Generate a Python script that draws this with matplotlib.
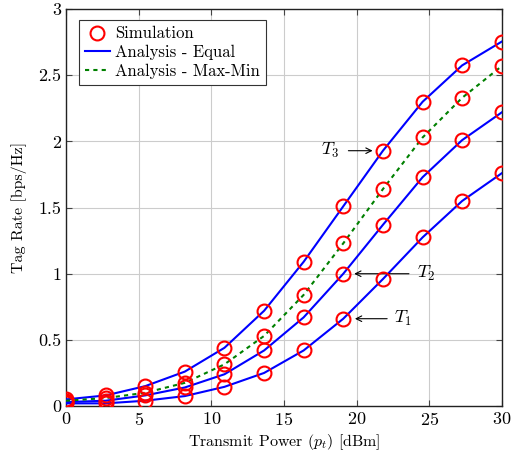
"""
Tag rate vs transmit power
"""

import matplotlib
matplotlib.use('Agg')
import matplotlib.pyplot as plt
import numpy as np

plt.rcParams['font.family'] = 'cmr10'
plt.rcParams['mathtext.fontset'] = 'cm'
plt.rcParams['axes.unicode_minus'] = False
plt.rcParams['axes.formatter.use_mathtext'] = True

# Data
power = [0, 2.73, 5.45, 8.18, 10.91, 13.64, 16.36, 19.09, 21.82, 24.55, 27.27, 30]
rate_t3 = [0.05, 0.08, 0.15, 0.26, 0.44, 0.72, 1.09, 1.51, 1.93, 2.30, 2.575, 2.755]
rate_t2 = [0.03, 0.04, 0.08, 0.14, 0.24, 0.42, 0.67, 1.00, 1.37, 1.73, 2.01, 2.22]
rate_t1 = [0.02, 0.02, 0.04, 0.075, 0.145, 0.25, 0.42, 0.66, 0.96, 1.275, 1.55, 1.76]
rate_maxmin = [0.04, 0.06, 0.10, 0.175, 0.315, 0.53, 0.84, 1.23, 1.64, 2.03, 2.33, 2.57]

x_ticks = [0, 5, 10, 15, 20, 25, 30]
y_ticks = [0, 0.5, 1, 1.5, 2, 2.5, 3]
y_tick_labels = ['0', '0.5', '1', '1.5', '2', '2.5', '3']

fig = plt.figure(figsize=(5.11, 4.58), dpi=100)
ax = fig.add_axes([0.129, 0.1135, 0.853, 0.8665])

# Analysis curves
for rate in (rate_t3, rate_t2, rate_t1):
    ax.plot(power, rate, color='blue', lw=1.5, zorder=3)
ax.plot(power, rate_maxmin, color='green', lw=1.5, linestyle=(0, (2.0, 2.0)), zorder=3)

# Simulation markers
for rate in (rate_t3, rate_maxmin, rate_t2, rate_t1):
    ax.plot(power, rate, linestyle='none', marker='o', markersize=10,
            markerfacecolor='none', markeredgecolor='red', markeredgewidth=1.5, zorder=4)

# Legend handles
h_sim, = ax.plot([], [], linestyle='none', marker='o', markersize=10,
                 markerfacecolor='none', markeredgecolor='red', markeredgewidth=1.5)
h_eq, = ax.plot([], [], color='blue', lw=1.5)
h_mm, = ax.plot([], [], color='green', lw=1.5, linestyle=(0, (2.0, 2.0)))
leg = ax.legend([h_sim, h_eq, h_mm],
                ['Simulation', 'Analysis - Equal', 'Analysis - Max-Min'],
                loc='upper left', bbox_to_anchor=(0.03, 0.972), fontsize=12,
                fancybox=False, edgecolor='#333333', framealpha=1,
                handlelength=1.5, handletextpad=0.3, borderpad=0.35,
                labelspacing=0.2, borderaxespad=0)
leg.get_frame().set_linewidth(0.8)

# Annotations
arrow = dict(arrowstyle='->', color='black', lw=0.8)
ax.annotate('', xy=(21.3, 1.93), xytext=(19.25, 1.93), arrowprops=arrow)
ax.text(18.2, 1.93, '$T_3$', fontsize=13, ha='center', va='center')
ax.annotate('', xy=(19.65, 1.0), xytext=(23.8, 1.0), arrowprops=arrow)
ax.text(24.8, 1.0, '$T_2$', fontsize=13, ha='center', va='center')
ax.annotate('', xy=(19.7, 0.66), xytext=(22.3, 0.66), arrowprops=arrow)
ax.text(23.2, 0.66, '$T_1$', fontsize=13, ha='center', va='center')

ax.set_xlim(0, 30)
ax.set_ylim(0, 3)
ax.set_xticks(x_ticks)
ax.set_yticks(y_ticks)
ax.set_yticklabels(y_tick_labels)
ax.tick_params(direction='in', top=True, right=True, labelsize=13,
               length=4, color='#444444')
ax.grid(True, color='#cccccc', lw=0.8)
ax.set_axisbelow(True)
for sp in ax.spines.values():
    sp.set_color('#222222')
    sp.set_linewidth(1.0)

ax.set_xlabel('Transmit Power ($p_t$) [dBm]', fontsize=11.5, labelpad=3)
ax.set_ylabel('Tag Rate [bps/Hz]', fontsize=11.5, labelpad=8)

fig.savefig('out.png', dpi=100)
